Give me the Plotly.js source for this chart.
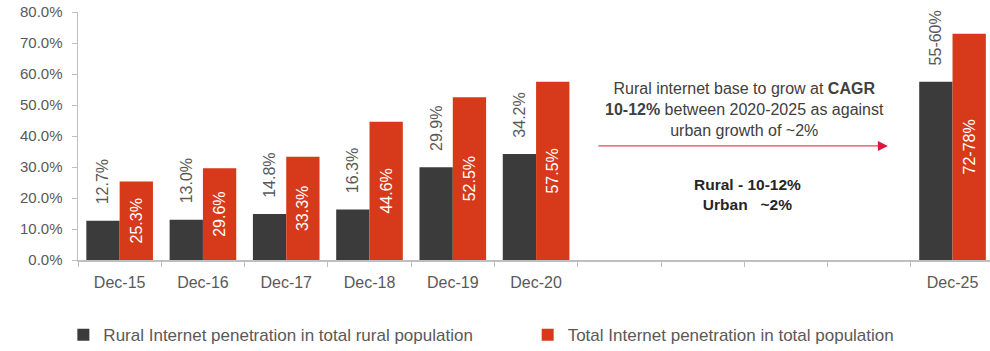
<!DOCTYPE html>
<html>
<head>
<meta charset="utf-8">
<script src="https://cdn.plot.ly/plotly-3.0.1.min.js"></script>
<style>html,body{margin:0;padding:0;background:#fff;}#chart{width:990px;height:351px;}</style>
</head>
<body>
<div id="chart"></div>
<script>
var categories = ["Dec-15","Dec-16","Dec-17","Dec-18","Dec-19","Dec-20","Dec-21","Dec-22","Dec-23","Dec-24","Dec-25"];
var tickLabels = ["Dec-15","Dec-16","Dec-17","Dec-18","Dec-19","Dec-20","","","","","Dec-25"];
var ruralValues = [12.7, 13.0, 14.8, 16.3, 29.9, 34.2, null, null, null, null, 57.5];
var ruralLabels = ["12.7%","13.0%","14.8%","16.3%","29.9%","34.2%","","","","","55-60%"];
var totalValues = [25.3, 29.6, 33.3, 44.6, 52.5, 57.5, null, null, null, null, 73.0];
var totalLabels = ["25.3%","29.6%","33.3%","44.6%","52.5%","57.5%","","","","","72-78%"];
var yTickVals = [0,10,20,30,40,50,60,70,80];
var yTickText = ["0.0%","10.0%","20.0%","30.0%","40.0%","50.0%","60.0%","70.0%","80.0%"];
var seriesNames = ["Rural Internet penetration in total rural population","Total Internet penetration in total population"];

var FONT = "Liberation Sans, Arial, sans-serif";
var PAD = "\u00a0\u00a0\u00a0";
var traces = [
  {type:"bar", name:seriesNames[0], x:categories, y:ruralValues, legend:"legend",
   text:ruralLabels.map(function(s){return s ? PAD + s : s;}),
   textposition:"outside", textangle:-90, constraintext:"none", textfont:{family:FONT,size:16,color:"#595959"},
   marker:{color:"#3b3b3b"}, cliponaxis:false, hoverinfo:"none"},
  {type:"bar", name:seriesNames[1], x:categories, y:totalValues, text:totalLabels, legend:"legend2",
   textposition:"inside", insidetextanchor:"middle", textangle:-90, constraintext:"none", textfont:{family:FONT,size:16,color:"#ffffff"},
   marker:{color:"#d63a1b"}, cliponaxis:false, hoverinfo:"none"}
];

var legendFont = {family:FONT,size:17,color:"#595959"};
var layout = {
  width:990, height:351,
  margin:{l:78, r:0, t:12, b:91},
  paper_bgcolor:"#ffffff", plot_bgcolor:"#ffffff",
  barmode:"group", bargap:0.2, bargroupgap:0,
  font:{family:FONT, color:"#595959"},
  xaxis:{type:"category", categoryorder:"array", categoryarray:categories,
    range:[-0.5, 10.45], tickvals:categories, ticktext:tickLabels, tickson:"boundaries",
    ticks:"outside", ticklen:5, tickcolor:"#bfbfbf", showline:true, linecolor:"#bfbfbf", linewidth:1.5,
    tickfont:{family:FONT,size:16,color:"#595959"}, showgrid:false, zeroline:false, ticklabelstandoff:7},
  yaxis:{range:[0,80], tickvals:yTickVals, ticktext:yTickText, ticks:"outside", ticklen:5,
    tickcolor:"#bfbfbf", showline:true, linecolor:"#bfbfbf", linewidth:1.5,
    tickfont:{family:FONT,size:15,color:"#595959"}, showgrid:false, zeroline:false, ticklabelstandoff:6},
  showlegend:true,
  legend:{orientation:"h", xref:"container", yref:"container", x:0.064, xanchor:"left", y:0.045, yanchor:"middle",
    font:legendFont, bgcolor:"rgba(0,0,0,0)"},
  legend2:{orientation:"h", xref:"container", yref:"container", x:0.533, xanchor:"left", y:0.045, yanchor:"middle",
    font:legendFont, bgcolor:"rgba(0,0,0,0)"},
  annotations:[
    {xref:"paper", yref:"paper", x:0.731, y:0.605, xanchor:"center", yanchor:"middle", showarrow:false,
     text:"Rural internet base to grow at <b>CAGR</b><br><b>10-12%</b> between 2020-2025 as against<br>urban growth of ~2%",
     font:{family:FONT,size:16,color:"#404040"}, align:"center"},
    {xref:"paper", yref:"paper", x:0.888, y:0.46, axref:"paper", ayref:"paper", ax:0.569, ay:0.46,
     showarrow:true, arrowhead:2, arrowsize:2, arrowwidth:1, arrowcolor:"#e0143c", text:""},
    {xref:"paper", yref:"paper", x:0.734, y:0.266, xanchor:"center", yanchor:"middle", showarrow:false,
     text:"<b>Rural - 10-12%</b><br><b>Urban&nbsp;&nbsp;&nbsp;~2%</b>",
     font:{family:FONT,size:15.5,color:"#262626"}, align:"center"}
  ]
};

Plotly.newPlot("chart", traces, layout, {displayModeBar:false, staticPlot:true});
</script>
</body>
</html>
